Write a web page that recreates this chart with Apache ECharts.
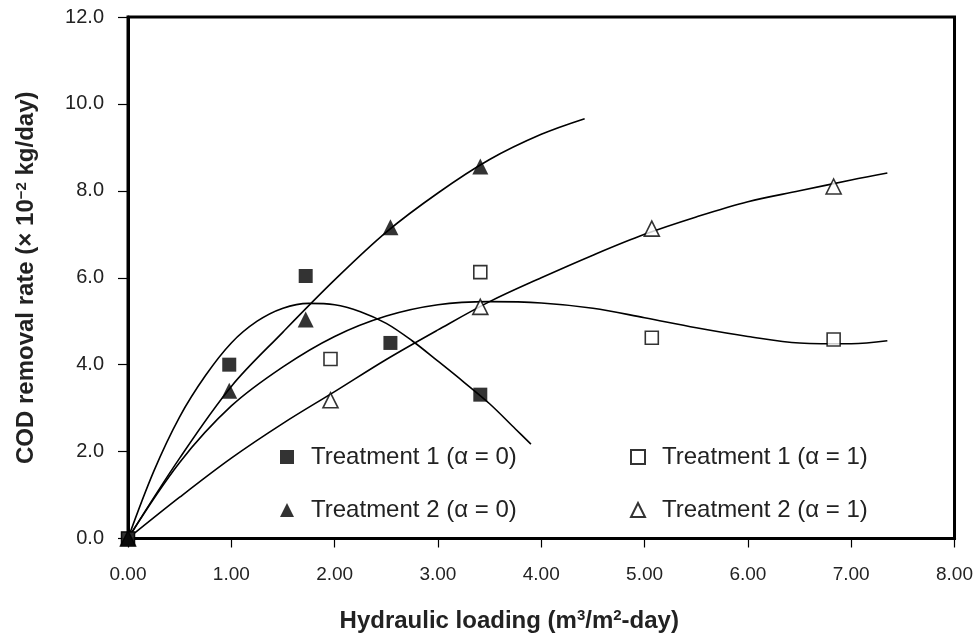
<!DOCTYPE html>
<html>
<head>
    <meta charset="UTF-8">
    <title>COD removal rate</title>
    <script src="https://cdn.jsdelivr.net/npm/echarts@6/dist/echarts.min.js"></script>
    <style>
        html, body { margin: 0; padding: 0; background: #fff; }
    </style>
</head>
<body>
<div id="main" style="width: 976px;height:638px;"></div>
<script type="text/javascript">
    // measured points
    var t1a0 = [[0, 0], [0.98, 4.0], [1.72, 6.04], [2.54, 4.5], [3.41, 3.31]];
    var t2a0 = [[0, 0], [0.98, 3.4], [1.72, 5.04], [2.54, 7.16], [3.41, 8.56]];
    var t1a1 = [[0, 0], [1.96, 4.13], [3.41, 6.13], [5.07, 4.62], [6.83, 4.58]];
    var t2a1 = [[0, 0], [1.96, 3.18], [3.41, 5.33], [5.07, 7.13], [6.83, 8.1]];

    // fitted curves
    var fitT1a0X = [0, 0.25, 0.5, 0.75, 1.0, 1.25, 1.5, 1.75, 2.0, 2.25, 2.5, 2.75, 3.0, 3.25, 3.5, 3.75, 3.9];
    var fitT1a0Y = [0, 1.55, 2.8, 3.75, 4.5, 5.0, 5.3, 5.41, 5.38, 5.22, 4.95, 4.55, 4.08, 3.6, 3.1, 2.52, 2.17];
    var fitT2a0X = [0, 0.5, 1.0, 1.5, 2.0, 2.5, 3.0, 3.5, 4.0, 4.42];
    var fitT2a0Y = [0, 1.85, 3.5, 4.75, 5.95, 7.05, 7.95, 8.72, 9.3, 9.66];
    var fitT1a1X = [0, 0.5, 1.0, 1.5, 2.0, 2.5, 3.0, 3.5, 4.0, 4.5, 5.0, 5.5, 6.0, 6.5, 7.0, 7.35];
    var fitT1a1Y = [0, 1.75, 3.05, 3.95, 4.65, 5.12, 5.38, 5.45, 5.42, 5.3, 5.08, 4.85, 4.65, 4.5, 4.48, 4.55];
    var fitT2a1X = [0, 0.5, 1.0, 1.5, 2.0, 2.5, 3.0, 3.5, 4.0, 4.5, 5.0, 5.5, 6.0, 6.5, 7.0, 7.35];
    var fitT2a1Y = [0, 0.95, 1.85, 2.65, 3.38, 4.12, 4.8, 5.45, 6.0, 6.52, 7.0, 7.4, 7.75, 8.0, 8.25, 8.41];

    var names = ['Treatment 1 (\u03b1 = 0)', 'Treatment 2 (\u03b1 = 0)',
                 'Treatment 1 (\u03b1 = 1)', 'Treatment 2 (\u03b1 = 1)'];

    function pairs(xs, ys) {
        var out = [];
        for (var i = 0; i < xs.length; i++) {
            out.push([xs[i], ys[i]]);
        }
        return out;
    }

    function fitLine(xs, ys) {
        return {
            type: 'line',
            data: pairs(xs, ys),
            smooth: 0.35,
            symbol: 'none',
            silent: true,
            lineStyle: { color: '#000', width: 1.6 },
            z: 1
        };
    }

    var filled = { color: '#000' };
    var hollow = { color: '#fff', borderColor: '#000', borderWidth: 1.6 };

    var legendText = {
        fontFamily: 'Liberation Sans',
        fontSize: 24,
        color: '#222',
        lineHeight: 28,
        padding: [0, 0, 0, 12]
    };

    var myChart = echarts.init(document.getElementById('main'));
    myChart.setOption({
        animation: false,
        backgroundColor: '#fff',
        grid: {
            left: 128, right: 21, top: 17, bottom: 94,
            show: true, borderColor: '#000', borderWidth: 3
        },
        legend: [{
            data: [names[0], names[1]],
            orient: 'vertical',
            left: 280, top: 443,
            padding: 0,
            itemGap: 25,
            itemWidth: 14, itemHeight: 14,
            selectedMode: false,
            textStyle: legendText
        }, {
            data: [names[2], names[3]],
            orient: 'vertical',
            left: 630, top: 443,
            padding: 0,
            itemGap: 25,
            itemWidth: 14, itemHeight: 14,
            selectedMode: false,
            textStyle: legendText
        }],
        xAxis: {
            type: 'value',
            min: 0, max: 8, interval: 1,
            name: '{n|Hydraulic loading (m}{sup|3}{n|/m}{sup|2}{n|-day)}',
            nameLocation: 'middle',
            nameGap: 70,
            nameTextStyle: {
                fontFamily: 'Liberation Sans', fontWeight: 'bold', fontSize: 24, color: '#222',
                padding: [0, 64, 0, 0],
                rich: {
                    n: { fontFamily: 'Liberation Sans', fontWeight: 'bold', fontSize: 24, color: '#222' },
                    sup: { fontFamily: 'Liberation Sans', fontWeight: 'bold', fontSize: 15, color: '#222', verticalAlign: 'top', padding: [0, 0, 10, 0] }
                }
            },
            axisLine: { lineStyle: { color: '#000', width: 3 } },
            axisTick: { inside: false, length: 9, lineStyle: { color: '#000', width: 1.2 } },
            axisLabel: {
                margin: 27,
                fontFamily: 'Liberation Sans', fontSize: 19, color: '#222',
                formatter: function (v) { return v.toFixed(2); }
            },
            splitLine: { show: false }
        },
        yAxis: {
            type: 'value',
            min: 0, max: 12, interval: 2,
            name: '{n|COD removal rate (\u00d7 10}{sup|\u22122}{n| kg/day)}',
            nameLocation: 'middle',
            nameGap: 89,
            nameTextStyle: {
                fontFamily: 'Liberation Sans', fontWeight: 'bold', fontSize: 24, color: '#222',
                rich: {
                    n: { fontFamily: 'Liberation Sans', fontWeight: 'bold', fontSize: 24, color: '#222' },
                    sup: { fontFamily: 'Liberation Sans', fontWeight: 'bold', fontSize: 15, color: '#222', verticalAlign: 'top', padding: [0, 0, 10, 0] }
                }
            },
            axisLine: { lineStyle: { color: '#000', width: 3 } },
            axisTick: { inside: false, length: 10, lineStyle: { color: '#000', width: 1.2 } },
            axisLabel: {
                margin: 24,
                fontFamily: 'Liberation Sans', fontSize: 20, color: '#222',
                formatter: function (v) { return v.toFixed(1); }
            },
            splitLine: { show: false }
        },
        series: [
            fitLine(fitT1a0X, fitT1a0Y),
            fitLine(fitT2a0X, fitT2a0Y),
            fitLine(fitT1a1X, fitT1a1Y),
            fitLine(fitT2a1X, fitT2a1Y),
            { name: names[2], type: 'scatter', symbol: 'rect', symbolSize: 13, itemStyle: hollow, data: t1a1, z: 2 },
            { name: names[3], type: 'scatter', symbol: 'triangle', symbolSize: 15, itemStyle: hollow, data: t2a1, z: 2 },
            { name: names[1], type: 'scatter', symbol: 'triangle', symbolSize: 16, itemStyle: filled, data: t2a0, z: 3 },
            { name: names[0], type: 'scatter', symbol: 'rect', symbolSize: 14, itemStyle: filled, data: t1a0, z: 4 }
        ]
    });
</script>
</body>
</html>
